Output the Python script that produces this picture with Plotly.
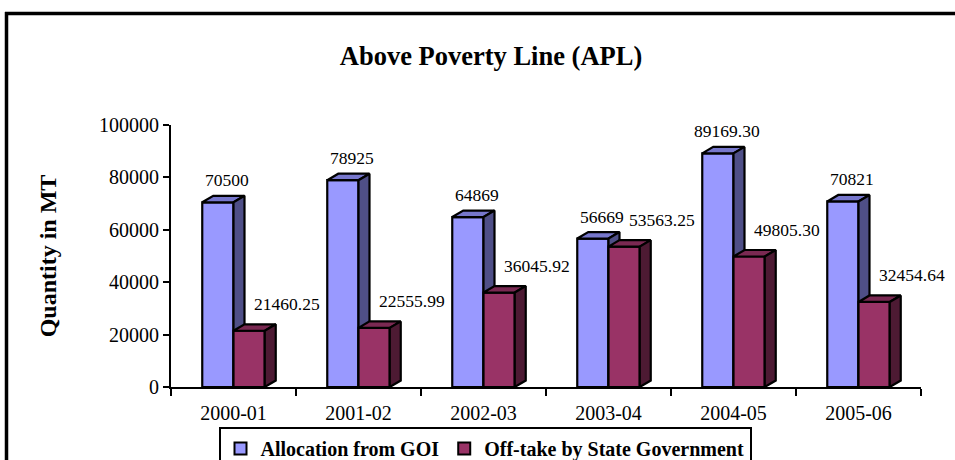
import plotly.graph_objects as go

# ---------------- data ----------------
categories = ["2000-01", "2001-02", "2002-03", "2003-04", "2004-05", "2005-06"]
allocation = [70500, 78925, 64869, 56669, 89169.30, 70821]
offtake = [21460.25, 22555.99, 36045.92, 53563.25, 49805.30, 32454.64]
allocation_labels = ["70500", "78925", "64869", "56669", "89169.30", "70821"]
offtake_labels = ["21460.25", "22555.99", "36045.92", "53563.25", "49805.30", "32454.64"]
y_tick_values = [0, 20000, 40000, 60000, 80000, 100000]
series_names = ["Allocation from GOI", "Off-take by State Government"]

# ---------------- style ----------------
W, H = 955, 460
L, R, T, B = 171, 34, 125, 73
PW, PH = W - L - R, H - T - B
FONT = "Liberation Serif, Times New Roman, serif"
BAR_W = 0.25          # bar width in category units
DX = 0.088            # 3D depth (x, category units)
DY = 2480             # 3D depth (y, data units)
OUTLINE = dict(color="black", width=2.2)

blue = dict(front="#9999FF", top="#7777CC", side="#4F4F87")
red = dict(front="#993366", top="#7A2952", side="#4D1A33")


def px_x(px):
    return (px - L) / PW


def px_y(py):
    return (H - B - py) / PH


def faces(values, left_offset):
    fx, fy, tx, ty, sx, sy = [], [], [], [], [], []
    for i, v in enumerate(values):
        xl = i + left_offset
        xr = xl + BAR_W
        fx += [xl, xr, xr, xl, xl, None]
        fy += [0, 0, v, v, 0, None]
        tx += [xl, xr, xr + DX, xl + DX, xl, None]
        ty += [v, v, v + DY, v + DY, v, None]
        sx += [xr, xr + DX, xr + DX, xr, xr, None]
        sy += [0, DY, v + DY, v, 0, None]
    return (fx, fy), (tx, ty), (sx, sy)


fig = go.Figure()

for values, offset, col in [(allocation, -BAR_W, blue), (offtake, 0.0, red)]:
    front, top, side = faces(values, offset)
    for (xs, ys), c in [(front, col["front"]), (top, col["top"]), (side, col["side"])]:
        fig.add_trace(go.Scatter(
            x=xs, y=ys, mode="lines", fill="toself", fillcolor=c,
            line=OUTLINE, showlegend=False, hoverinfo="skip"))

# legend entries
for name, col in zip(series_names, [blue, red]):
    fig.add_trace(go.Scatter(
        x=[None], y=[None], mode="markers", name=name,
        marker=dict(symbol="square", size=13, color=col["front"],
                    line=dict(color="black", width=2))))

# data labels
for i, (v, lab) in enumerate(zip(allocation, allocation_labels)):
    fig.add_annotation(x=i - BAR_W / 2, y=v, text=lab, showarrow=False,
                       xshift=9, yshift=22, font=dict(family=FONT, size=17.5, color="black"))
for i, (v, lab) in enumerate(zip(offtake, offtake_labels)):
    fig.add_annotation(x=i + BAR_W / 2, y=v, text=lab, showarrow=False,
                       xshift=38, yshift=27, font=dict(family=FONT, size=17.5, color="black"))

# outer chart border: only top and left edges are inside the visible frame
border = dict(color="black", width=3.5)
fig.add_shape(type="line", xref="paper", yref="paper",
              x0=px_x(5), x1=px_x(W + 40), y0=px_y(13.5), y1=px_y(13.5),
              line=border, layer="below")
fig.add_shape(type="line", xref="paper", yref="paper",
              x0=px_x(6.5), x1=px_x(6.5), y0=px_y(12), y1=px_y(H + 40),
              line=border, layer="below")

n = len(categories)
fig.update_layout(
    width=W, height=H,
    margin=dict(l=L, r=R, t=T, b=B, autoexpand=False),
    paper_bgcolor="white", plot_bgcolor="white",
    font=dict(family=FONT, color="black"),
    title=dict(text="Above Poverty Line (APL)", x=491 / W, y=1 - 56 / H,
               xref="container", yref="container", xanchor="center", yanchor="middle",
               font=dict(family=FONT, size=26.5, weight="bold", color="black")),
    showlegend=True,
    legend=dict(orientation="h", x=px_x(485), xanchor="center", y=px_y(427), yanchor="top",
                bordercolor="black", borderwidth=2, bgcolor="white",
                font=dict(family=FONT, size=20, weight="bold", color="black"),
                itemsizing="constant"),
    xaxis=dict(range=[-0.5, n - 0.5], tickmode="array", tickvals=list(range(n)),
               ticktext=categories, ticks="outside", ticklen=7, tickcolor="rgba(0,0,0,0)",
               showline=True, linecolor="black", linewidth=2, showgrid=False, zeroline=False,
               tickfont=dict(family=FONT, size=20, color="black"), fixedrange=True,
               minor=dict(tickmode="array", tickvals=[k - 0.5 for k in range(n + 1)],
                          ticks="outside", ticklen=7, tickwidth=2, tickcolor="black",
                          showgrid=False)),
    yaxis=dict(range=[0, 100000], tickmode="array", tickvals=y_tick_values,
               tickformat="d", ticks="outside", ticklen=6, tickwidth=2, tickcolor="black",
               showline=True, linecolor="black", linewidth=2, showgrid=False, zeroline=False,
               tickfont=dict(family=FONT, size=20, color="black"),
               title=dict(text="Quantity in MT", standoff=36,
                          font=dict(family=FONT, size=24, weight="bold", color="black"))),
)

fig.write_html("out.html", config={"displayModeBar": False})
